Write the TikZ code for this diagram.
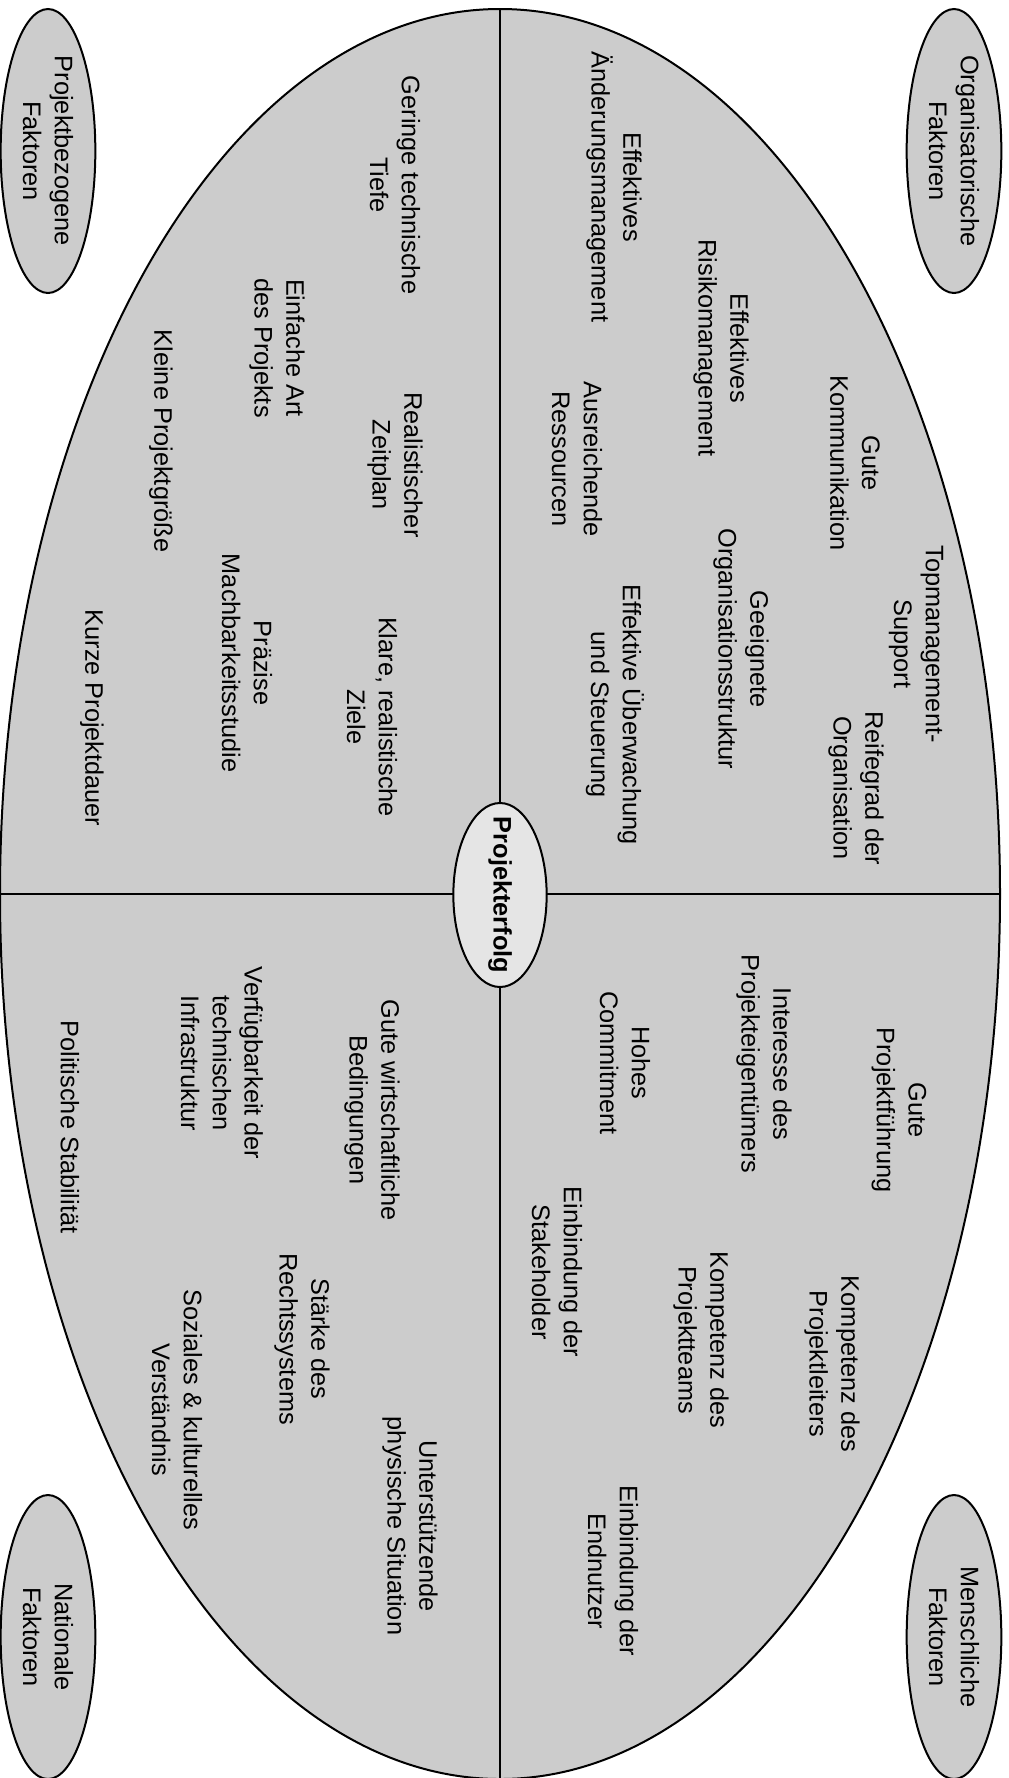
\documentclass[tikz,border=0pt]{standalone}
\usepackage{fontspec}
\setmainfont{Liberation Sans}
\usetikzlibrary{shapes.geometric}

\begin{document}
\begin{tikzpicture}[
    x=0.75pt, y=-0.75pt,
    field/.style={
        ellipse,
        draw=black,
        line width=1.5pt,
        fill=black!20,
        inner sep=0pt,
        minimum width=750pt,
        minimum height=1327.5pt
    },
    group_node/.style={
        ellipse,
        draw=black,
        line width=1.5pt,
        fill=black!20,
        inner sep=0pt,
        minimum width=71pt,
        minimum height=213pt
    },
    success_node/.style={
        ellipse,
        draw=black,
        line width=1.5pt,
        fill=black!10,
        inner sep=0pt,
        minimum width=70pt,
        minimum height=138pt
    },
    factor/.style={
        rotate=-90,
        align=center,
        inner sep=0pt,
        font=\fontsize{19}{23.8}\selectfont
    },
    axis_line/.style={
        line width=1.5pt,
        draw=black
    }
]
    \useasboundingbox (0,0) rectangle (1008,1778);

    % Main field and quadrants
    \node[field] (field) at (500, 894) {};
    \draw[axis_line] (field.north) -- (field.south);
    \draw[axis_line] (field.west) -- (field.east);
    \node[success_node] (erfolg) at (500, 895) {};
    \node[factor, font=\fontsize{19}{23.8}\selectfont\bfseries] at (erfolg.center) {Projekterfolg};

    % Group labels
    \node[group_node] (org) at (954, 151) {};
    \node[factor] at (org.center) {Organisatorische\\Faktoren};
    \node[group_node] (proj) at (48, 151) {};
    \node[factor] at (proj.center) {Projektbezogene\\Faktoren};
    \node[group_node] (mensch) at (954, 1637) {};
    \node[factor] at (mensch.center) {Menschliche\\Faktoren};
    \node[group_node] (nat) at (48, 1637) {};
    \node[factor] at (nat.center) {Nationale\\Faktoren};

    % Organisatorische Faktoren
    \node[factor] (topmgmt) at (916, 644) {Topmanagement-\\Support};
    \node[factor] (reife) at (856, 788) {Reifegrad der\\Organisation};
    \node[factor] (komm) at (855, 463) {Gute\\Kommunikation};
    \node[factor] (orgstr) at (741, 649) {Geeignete\\Organisationsstruktur};
    \node[factor] (risiko) at (721, 348) {Effektives\\Risikomanagement};
    \node[factor] (ueberw) at (615, 715) {Effektive Überwachung\\und Steuerung};
    \node[factor] (ressourcen) at (577, 459) {Ausreichende\\Ressourcen};
    \node[factor] (aenderung) at (614, 187) {Effektives\\Änderungsmanagement};

    % Projektbezogene Faktoren
    \node[factor] (tiefe) at (395, 185) {Geringe technische\\Tiefe};
    \node[factor] (art) at (277, 348) {Einfache Art\\des Projekts};
    \node[factor] (zeitplan) at (395, 465) {Realistischer\\Zeitplan};
    \node[factor] (groesse) at (161, 441) {Kleine Projektgröße};
    \node[factor] (ziele) at (372, 717) {Klare, realistische\\Ziele};
    \node[factor] (machbar) at (247, 663) {Präzise\\Machbarkeitsstudie};
    \node[factor] (dauer) at (92, 718) {Kurze Projektdauer};

    % Menschliche Faktoren
    \node[factor] (fuehrung) at (899, 1110) {Gute\\Projektführung};
    \node[factor] (eigentuemer) at (764, 1064) {Interesse des\\Projekteigentümers};
    \node[factor] (commitment) at (625, 1063) {Hohes\\Commitment};
    \node[factor] (leiter) at (832, 1364) {Kompetenz des\\Projektleiters};
    \node[factor] (team) at (701, 1340) {Kompetenz des\\Projektteams};
    \node[factor] (stakeholder) at (557, 1272) {Einbindung der\\Stakeholder};
    \node[factor] (endnutzer) at (613, 1571) {Einbindung der\\Endnutzer};

    % Nationale Faktoren
    \node[factor] (wirtschaft) at (372, 1110) {Gute wirtschaftliche\\Bedingungen};
    \node[factor] (infra) at (222, 1063) {Verfügbarkeit der\\technischen\\Infrastruktur};
    \node[factor] (politik) at (70, 1127) {Politische Stabilität};
    \node[factor] (recht) at (302, 1339) {Stärke des\\Rechtssystems};
    \node[factor] (physisch) at (410, 1526) {Unterstützende\\physische Situation};
    \node[factor] (sozial) at (177, 1410) {Soziales \& kulturelles\\Verständnis};
\end{tikzpicture}
\end{document}
